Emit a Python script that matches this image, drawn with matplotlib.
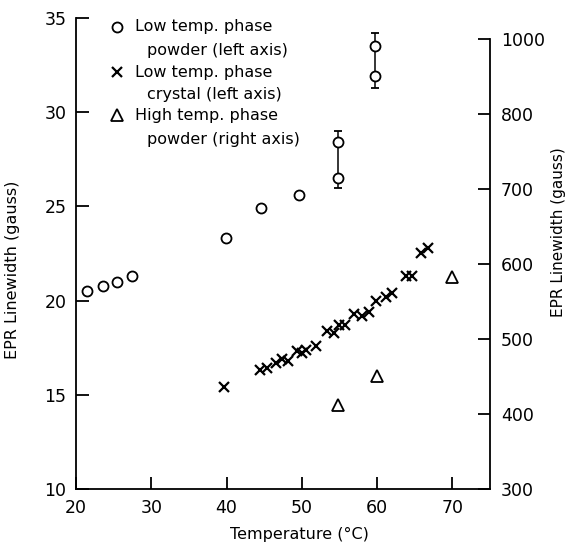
import matplotlib
matplotlib.use("Agg")
import matplotlib.pyplot as plt

# Low temp. phase powder (left axis)
powder_T = [21.5, 23.6, 25.4, 27.4, 39.9, 44.6, 49.6, 54.8, 54.8, 59.7, 59.7]
powder_G = [20.5, 20.8, 21.0, 21.3, 23.3, 24.9, 25.6, 28.4, 26.5, 33.5, 31.9]
# error bars (low, high) on the powder points
err_T = [54.8, 59.7]
err_lo = [26.0, 31.3]
err_hi = [29.0, 34.2]

# Low temp. phase crystal (left axis)
crystal_T = [39.6, 44.4, 45.4, 46.6, 47.4, 48.2, 49.3, 50.0, 50.6, 51.9, 53.3,
             54.3, 55.0, 55.8, 57.0, 58.0, 58.9, 59.9, 61.2, 62.0, 63.8, 64.6,
             65.8, 66.8]
crystal_G = [15.4, 16.3, 16.4, 16.7, 16.9, 16.8, 17.3, 17.2, 17.4, 17.6, 18.4,
             18.3, 18.7, 18.7, 19.3, 19.2, 19.4, 20.0, 20.2, 20.4, 21.3, 21.3,
             22.5, 22.8]

# High temp. phase powder (right axis)
high_T = [54.8, 60.0, 70.0]
high_G = [412, 451, 583]

x_ticks = [20, 30, 40, 50, 60, 70]
left_ticks = [10, 15, 20, 25, 30, 35]
right_ticks = [300, 400, 500, 600, 700, 800, 900]
right_labels = ['300', '400', '500', '600', '700', '800', '1000']

legend_labels = [("Low temp. phase", "powder (left axis)"),
                 ("Low temp. phase", "crystal (left axis)"),
                 ("High temp. phase", "powder (right axis)")]

plt.rcParams['font.family'] = ['DejaVu Sans']

fig = plt.figure(figsize=(5.71, 5.42), dpi=100)
ax = fig.add_axes([0.1331, 0.0978, 0.725, 0.869])
ax2 = ax.twinx()

ax.set_xlim(20, 75)
ax.set_ylim(10, 35)
ax2.set_ylim(300, 928)

lw = 1.3
ax.errorbar(err_T, [(a + b) / 2 for a, b in zip(err_lo, err_hi)],
            yerr=[(b - a) / 2 for a, b in zip(err_lo, err_hi)],
            fmt='none', ecolor='black', elinewidth=1.1, capsize=3, capthick=1.3, zorder=2)
ax.plot(powder_T, powder_G, linestyle='none', marker='o', ms=7.2, mfc='white',
        mec='black', mew=lw, zorder=3)
ax.plot(crystal_T, crystal_G, linestyle='none', marker='x', ms=7, mec='black',
        mew=1.6, zorder=3)
ax2.plot(high_T, high_G, linestyle='none', marker='^', ms=9, mfc='none',
         mec='black', mew=lw, zorder=3)

# Legend (manual)
marker_styles = [dict(marker='o', ms=7.2, mfc='white', mec='black', mew=lw),
                 dict(marker='x', ms=7, mec='black', mew=1.6),
                 dict(marker='^', ms=9, mfc='none', mec='black', mew=lw)]
y1s = [0.981, 0.885, 0.794]
y2s = [0.932, 0.837, 0.741]
for (l1, l2), st, y1, y2 in zip(legend_labels, marker_styles, y1s, y2s):
    ax.plot([0.099], [y1], transform=ax.transAxes, linestyle='none',
            clip_on=False, **st)
    ax.text(0.1425, y1, l1, transform=ax.transAxes, fontsize=11.5,
            va='center', ha='left')
    ax.text(0.171, y2, l2, transform=ax.transAxes, fontsize=11.5,
            va='center', ha='left')

# Axes styling
for a in (ax, ax2):
    a.spines['top'].set_visible(False)
ax.spines['right'].set_visible(False)
ax2.spines['left'].set_visible(False)
ax2.spines['bottom'].set_visible(False)
ax2.spines['right'].set_bounds(300, 900)
for s in ('left', 'bottom'):
    ax.spines[s].set_linewidth(1.3)
ax2.spines['right'].set_linewidth(1.3)

ax.set_xticks(x_ticks)
ax.set_yticks(left_ticks)
ax2.set_yticks(right_ticks)
ax2.set_yticklabels(right_labels)

ax.tick_params(axis='both', direction='in', length=9, width=1.3, labelsize=12.5)
ax.tick_params(axis='x', pad=7)
ax.tick_params(axis='y', pad=7)
ax2.tick_params(axis='y', direction='in', length=9, width=1.3, labelsize=12.5, pad=8)

ax.set_xlabel("Temperature (°C)", fontsize=11.5)
ax.xaxis.set_label_coords(0.54, -0.08)
ax.set_ylabel("EPR Linewidth (gauss)", fontsize=11.5)
ax.yaxis.set_label_coords(-0.135, 0.465)
ax2.set_ylabel("EPR Linewidth (gauss)", fontsize=11)
ax2.yaxis.set_label_coords(1.148, 0.546)

fig.savefig("out.png", dpi=100)
